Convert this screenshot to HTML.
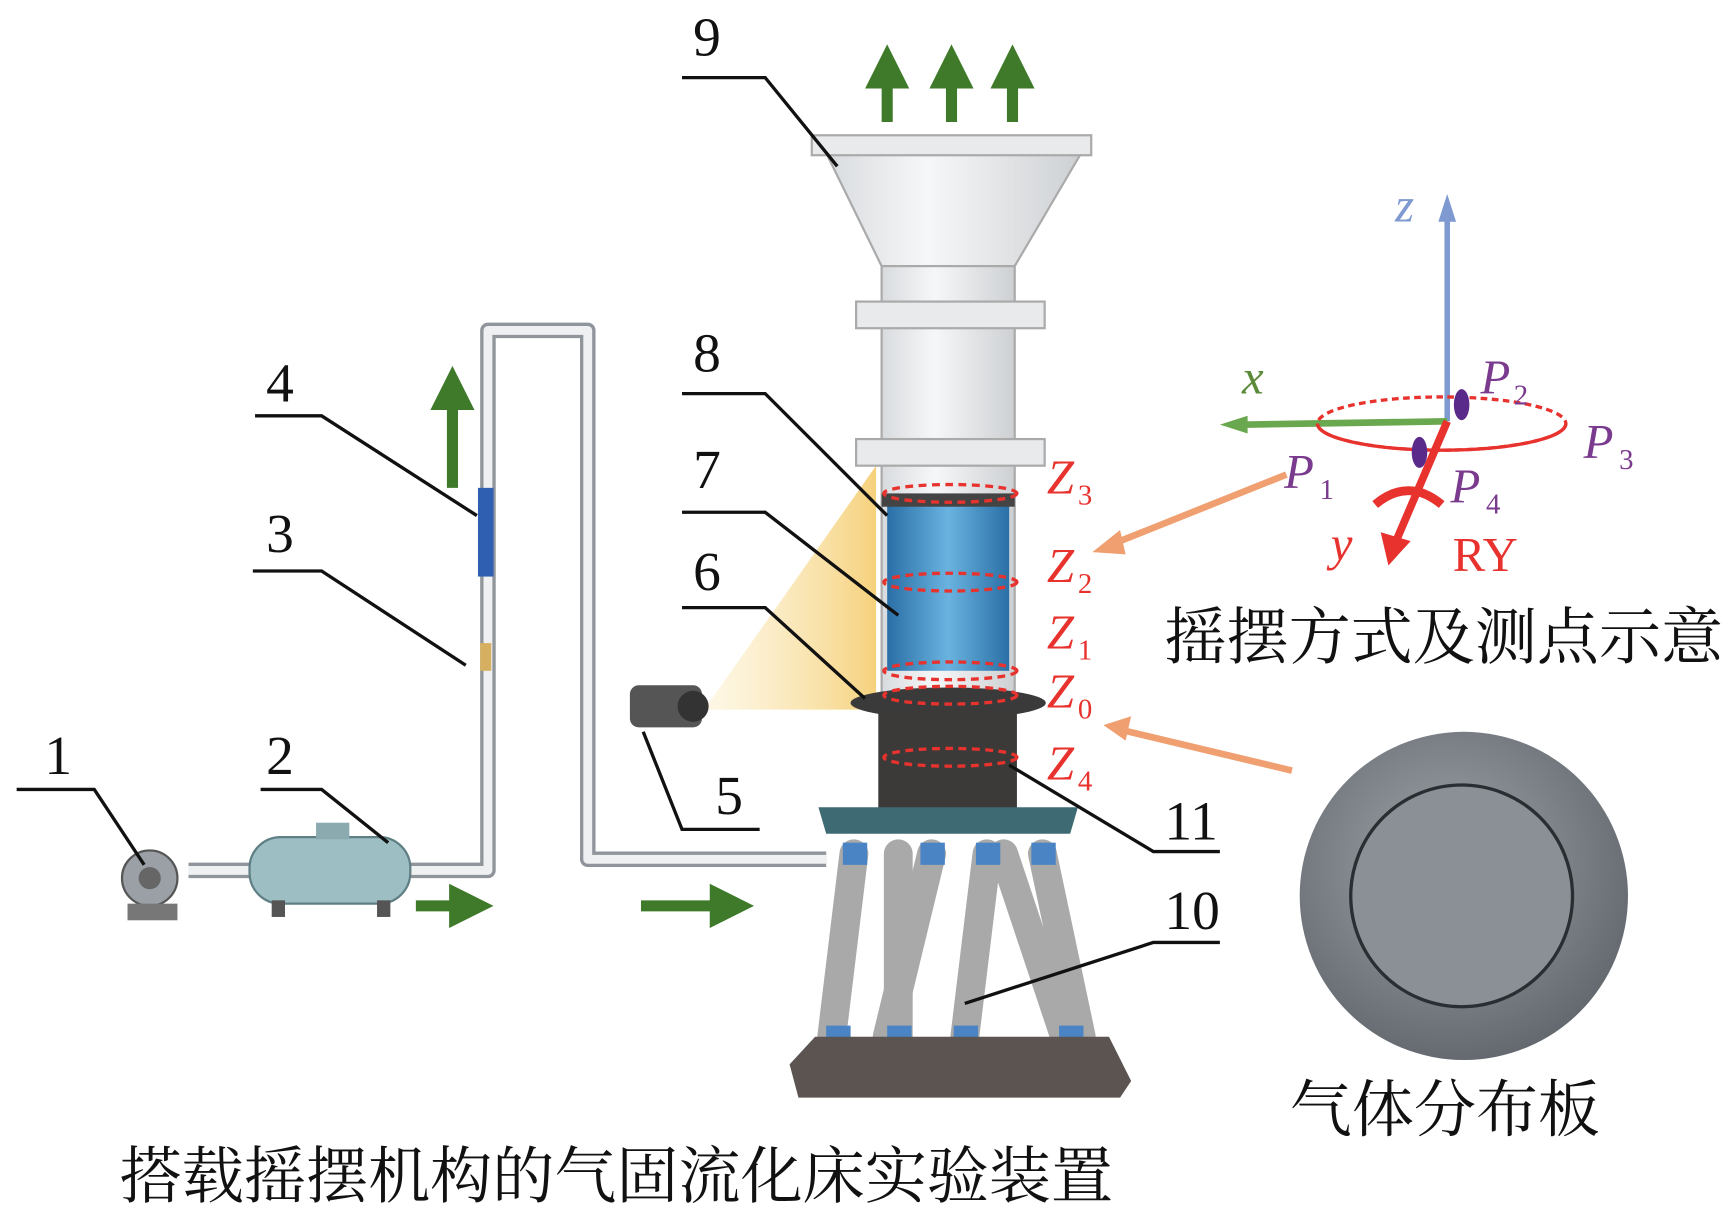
<!DOCTYPE html>
<html><head><meta charset="utf-8"><style>
html,body{margin:0;padding:0;background:#fff;}
svg{display:block}
.n{font-family:"Liberation Serif",serif;font-size:50px;fill:#111}
.z{font-family:"Liberation Serif",serif;font-style:italic;font-size:44px;fill:#e8322e}
.zs{font-family:"Liberation Serif",serif;font-size:26px;fill:#e8322e}
.p{font-family:"Liberation Serif",serif;font-style:italic;font-size:44px;fill:#7a3a8e}
.ps{font-family:"Liberation Serif",serif;font-size:26px;fill:#7a3a8e}
.cn{font-family:"Liberation Serif","Noto Serif CJK SC",serif;font-size:56px;fill:#111}
</style></head><body>
<svg width="1730" height="1213" viewBox="0 0 1560 1094" preserveAspectRatio="none" xmlns="http://www.w3.org/2000/svg">
<defs>
<linearGradient id="cyl" x1="0" x2="1"><stop offset="0" stop-color="#d8dbde"/><stop offset="0.4" stop-color="#f6f7f8"/><stop offset="1" stop-color="#cdd0d3"/></linearGradient>
<linearGradient id="blue" x1="0" x2="1"><stop offset="0" stop-color="#2a6fa6"/><stop offset="0.5" stop-color="#6ab3e0"/><stop offset="1" stop-color="#2a6fa6"/></linearGradient>
<linearGradient id="beam" x1="1" x2="0"><stop offset="0" stop-color="#f3c65c" stop-opacity="0.8"/><stop offset="1" stop-color="#fbe7b0" stop-opacity="0.3"/></linearGradient>
<radialGradient id="plate" cx="0.45" cy="0.4" r="0.7"><stop offset="0" stop-color="#a0a5aa"/><stop offset="1" stop-color="#5a6066"/></radialGradient>
<marker id="ga" markerWidth="4" markerHeight="4" refX="2" refY="2" orient="auto"><path d="M0,0L4,2L0,4z" fill="#3f7a2a"/></marker>
</defs>
<polygon points="635,640 790,420 790,640" fill="url(#beam)"/>
<g fill="none" stroke="#8f959a" stroke-width="14" stroke-linejoin="round">
<path d="M170,785 L235,785"/>
<path d="M360,785 L440,785 L440,298 L530,298 L530,775 L745,775"/>
</g>
<g fill="none" stroke="#eef0f2" stroke-width="8" stroke-linejoin="round">
<path d="M170,785 L235,785"/>
<path d="M360,785 L440,785 L440,298 L530,298 L530,775 L745,775"/>
</g>
<rect x="431" y="440" width="14" height="80" fill="#2f5fb0"/>
<rect x="433" y="580" width="10" height="25" fill="#d6b060"/>
<circle cx="135" cy="792" r="25" fill="#9aa0a6" stroke="#555" stroke-width="2"/>
<circle cx="135" cy="792" r="10" fill="#666"/>
<rect x="115" y="815" width="45" height="15" fill="#777"/>
<rect x="225" y="755" width="145" height="60" rx="28" fill="#9dbfc4" stroke="#5f7f85" stroke-width="2"/>
<rect x="285" y="742" width="30" height="15" fill="#8aaab0"/>
<rect x="245" y="812" width="12" height="15" fill="#555"/><rect x="340" y="812" width="12" height="15" fill="#555"/>
<g stroke="#3f7a2a" stroke-width="10" marker-end="url(#ga)">
<line x1="375" y1="817" x2="425" y2="817"/>
<line x1="578" y1="817" x2="660" y2="817"/>
<line x1="408" y1="440" x2="408" y2="350"/>
<line x1="800" y1="110" x2="800" y2="60"/>
<line x1="858" y1="110" x2="858" y2="60"/>
<line x1="913" y1="110" x2="913" y2="60"/>
</g>
<polygon points="745,138 975,138 915,240 795,240" fill="url(#cyl)" stroke="#aaa" stroke-width="2"/>
<rect x="732" y="122" width="252" height="18" fill="#e8eaec" stroke="#aaa" stroke-width="2"/>
<rect x="795" y="240" width="120" height="400" fill="url(#cyl)" stroke="#aaa" stroke-width="2"/>
<rect x="772" y="272" width="170" height="24" fill="#e8eaec" stroke="#aaa" stroke-width="2"/>
<rect x="772" y="396" width="170" height="24" fill="#e8eaec" stroke="#aaa" stroke-width="2"/>
<rect x="800" y="455" width="110" height="150" fill="url(#blue)"/>
<rect x="795" y="445" width="120" height="12" fill="#444"/>
<ellipse cx="855" cy="634" rx="88" ry="14" fill="#3a3a3a"/>
<rect x="792" y="640" width="125" height="90" fill="#3b3a38"/>
<polygon points="738,728 972,728 965,752 745,752" fill="#3e6b73"/>
<g stroke="#a8a9a8" stroke-width="26" stroke-linecap="round">
<line x1="770" y1="770" x2="750" y2="935"/><line x1="810" y1="770" x2="810" y2="935"/>
<line x1="840" y1="770" x2="800" y2="935"/><line x1="890" y1="770" x2="870" y2="935"/>
<line x1="905" y1="770" x2="960" y2="935"/><line x1="940" y1="770" x2="975" y2="935"/>
</g>
<g fill="#4a84c4"><rect x="760" y="760" width="22" height="20"/><rect x="830" y="760" width="22" height="20"/><rect x="880" y="760" width="22" height="20"/><rect x="930" y="760" width="22" height="20"/><rect x="745" y="925" width="22" height="18"/><rect x="800" y="925" width="22" height="18"/><rect x="860" y="925" width="22" height="18"/><rect x="955" y="925" width="22" height="18"/></g>
<polygon points="735,935 1000,935 1020,975 1010,990 720,990 712,960" fill="#5b5450"/>
<rect x="568" y="618" width="65" height="38" rx="8" fill="#555"/>
<circle cx="625" cy="637" r="14" fill="#333"/>
<g fill="none" stroke="#e8322e" stroke-width="3" stroke-dasharray="7,5">
<ellipse cx="857" cy="445" rx="60" ry="8"/><ellipse cx="857" cy="525" rx="60" ry="8"/>
<ellipse cx="857" cy="605" rx="60" ry="8"/><ellipse cx="857" cy="627" rx="60" ry="8"/>
<ellipse cx="857" cy="683" rx="60" ry="8"/>
</g>
<text class="z" x="944" y="445">Z</text><text class="zs" x="972" y="455">3</text>
<text class="z" x="944" y="525">Z</text><text class="zs" x="972" y="535">2</text>
<text class="z" x="944" y="585">Z</text><text class="zs" x="972" y="595">1</text>
<text class="z" x="944" y="638">Z</text><text class="zs" x="972" y="648">0</text>
<text class="z" x="944" y="703">Z</text><text class="zs" x="972" y="713">4</text>
<g stroke="#111" stroke-width="3" fill="none">
<path d="M615,70 L690,70 L755,150"/>
<path d="M230,375 L290,375 L430,465"/>
<path d="M228,515 L290,515 L420,600"/>
<path d="M15,712 L85,712 L130,780"/>
<path d="M235,712 L290,712 L350,760"/>
<path d="M685,748 L615,748 L580,660"/>
<path d="M615,355 L690,355 L800,465"/>
<path d="M615,462 L690,462 L810,555"/>
<path d="M615,548 L690,548 L780,630"/>
<path d="M1100,768 L1040,768 L910,690"/>
<path d="M1100,850 L1040,850 L870,905"/>
</g>
<text class="n" x="625" y="50">9</text><text class="n" x="240" y="362">4</text><text class="n" x="240" y="498">3</text>
<text class="n" x="40" y="698">1</text><text class="n" x="240" y="698">2</text><text class="n" x="645" y="734">5</text>
<text class="n" x="625" y="335">8</text><text class="n" x="625" y="440">7</text><text class="n" x="625" y="532">6</text>
<text class="n" x="1050" y="757">11</text><text class="n" x="1050" y="838">10</text>
<g stroke="#f0a070" stroke-width="6" fill="#f0a070">
<line x1="1160" y1="428" x2="1000" y2="492"/><polygon points="985,498 1010,478 1015,500" stroke="none"/>
<line x1="1165" y1="695" x2="1010" y2="658"/><polygon points="995,654 1020,646 1015,668" stroke="none"/>
</g>
<line x1="1305" y1="380" x2="1305" y2="195" stroke="#7f9ad0" stroke-width="5"/><polygon points="1297,200 1305,175 1313,200" fill="#7f9ad0"/>
<line x1="1305" y1="380" x2="1120" y2="383" stroke="#6aa84f" stroke-width="6"/><polygon points="1125,375 1100,383 1125,391" fill="#6aa84f"/>
<line x1="1305" y1="380" x2="1258" y2="490" stroke="#e8322e" stroke-width="7"/><polygon points="1245,480 1252,510 1272,488" fill="#e8322e"/>
<ellipse cx="1300" cy="382" rx="112" ry="24" fill="none" stroke="#e8322e" stroke-width="3" stroke-dasharray="6,4"/>
<path d="M1188,382 A112,24 0 0 0 1412,382" fill="none" stroke="#e8322e" stroke-width="3"/>
<ellipse cx="1318" cy="365" rx="7" ry="14" fill="#5a2a8a"/><ellipse cx="1280" cy="408" rx="7" ry="14" fill="#5a2a8a"/>
<path d="M1240,455 Q1270,430 1300,455" fill="none" stroke="#e8322e" stroke-width="8"/>
<text class="p" x="1258" y="200" style="fill:#7f9ad0">z</text>
<text class="p" x="1120" y="355" style="fill:#5a8a3a">x</text>
<text class="p" x="1200" y="505" style="fill:#e8322e">y</text>
<text x="1310" y="515" style="font-family:'Liberation Serif',serif;font-size:44px;fill:#e8322e">RY</text>
<text class="p" x="1335" y="355">P</text><text class="ps" x="1365" y="365">2</text>
<text class="p" x="1428" y="413">P</text><text class="ps" x="1460" y="423">3</text>
<text class="p" x="1158" y="440">P</text><text class="ps" x="1190" y="450">1</text>
<text class="p" x="1308" y="453">P</text><text class="ps" x="1340" y="463">4</text>
<text class="cn" x="1050" y="594">摇摆方式及测点示意</text>
<circle cx="1320" cy="808" r="148" fill="url(#plate)"/>
<circle cx="1318" cy="808" r="100" fill="#8a9095" stroke="#2a2e33" stroke-width="3"/>
<text class="cn" x="1163" y="1020">气体分布板</text>
<text class="cn" x="108" y="1080">搭载摇摆机构的气固流化床实验装置</text>
</svg>
</body></html>
